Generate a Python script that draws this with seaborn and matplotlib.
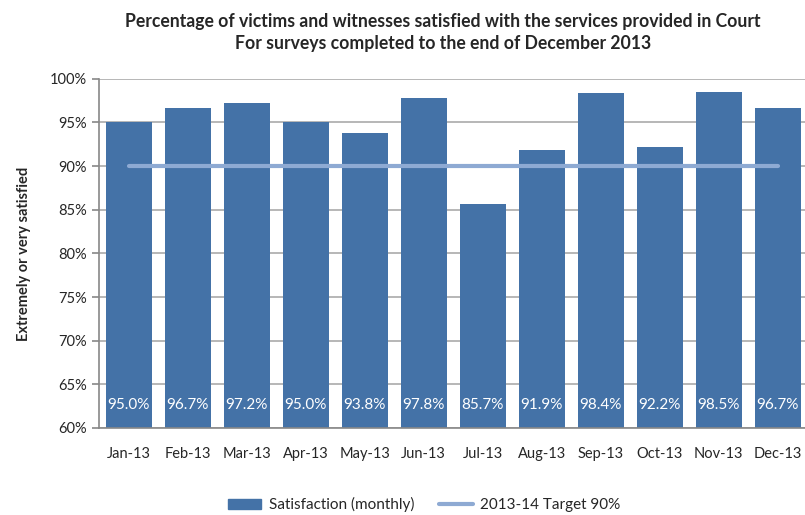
import numpy as np
import pandas as pd
import matplotlib.pyplot as plt
from matplotlib.lines import Line2D
from matplotlib.patches import Patch
import seaborn as sns

months = ['Jan-13', 'Feb-13', 'Mar-13', 'Apr-13', 'May-13', 'Jun-13',
          'Jul-13', 'Aug-13', 'Sep-13', 'Oct-13', 'Nov-13', 'Dec-13']
satisfaction = [95.0, 96.7, 97.2, 95.0, 93.8, 97.8, 85.7, 91.9, 98.4, 92.2, 98.5, 96.7]
target = [90] * 12

sns.set_style('white')
plt.rcParams['font.family'] = ['Lato', 'DejaVu Sans']

df = pd.DataFrame({'Month': months, 'Satisfaction': satisfaction, 'Target': target})

fig = plt.figure(figsize=(8.05, 5.15), dpi=100)
ax = fig.add_axes([0.123, 0.169, 0.88, 0.678])

bar_col = '#4472a7'
sns.barplot(data=df, x='Month', y='Satisfaction', color=bar_col, width=0.78,
            saturation=1, linewidth=0, ax=ax, zorder=2)
ax.plot(range(len(months)), df['Target'], color='#8eaad3', lw=3, zorder=3,
        solid_capstyle='round')

for i, v in enumerate(satisfaction):
    ax.text(i, 62.6, f'{v:.1f}%', color='white', ha='center', va='center', fontsize=11)

ax.set_ylim(60, 100)
ax.set_xlim(-0.5, 11.5)
ax.set_yticks(np.arange(60, 101, 5))
ax.set_yticklabels([f'{t}%' for t in range(60, 101, 5)], fontsize=10.5)
ax.tick_params(axis='x', labelsize=10.5, length=0, pad=14)
ax.tick_params(axis='y', left=True, length=5, color='#888888', width=1.2)
ax.yaxis.grid(True, color='#aaaaaa', lw=1.2, zorder=0)
ax.set_axisbelow(True)
for s in ['top', 'right']:
    ax.spines[s].set_visible(False)
for s in ['left', 'bottom']:
    ax.spines[s].set_color('#888888')
    ax.spines[s].set_linewidth(1.2)
ax.set_xlabel('')
ax.set_ylabel('Extremely or very satisfied', fontsize=10.5, fontweight='bold', labelpad=14)

fig.suptitle('Percentage of victims and witnesses satisfied with the services provided in Court\n'
             'For surveys completed to the end of December 2013',
             x=0.55, y=0.975, fontsize=12.7, fontweight='bold', linespacing=1.4)

handles = [Patch(color=bar_col), Line2D([0], [0], color='#8eaad3', lw=3)]
fig.legend(handles, ['Satisfaction (monthly)', '2013-14 Target 90%'],
           loc='center', bbox_to_anchor=(0.527, 0.02), ncol=2, frameon=False,
           fontsize=11, handlelength=2.2, handletextpad=0.5, columnspacing=1.6)

fig.savefig('out.png', dpi=100)
